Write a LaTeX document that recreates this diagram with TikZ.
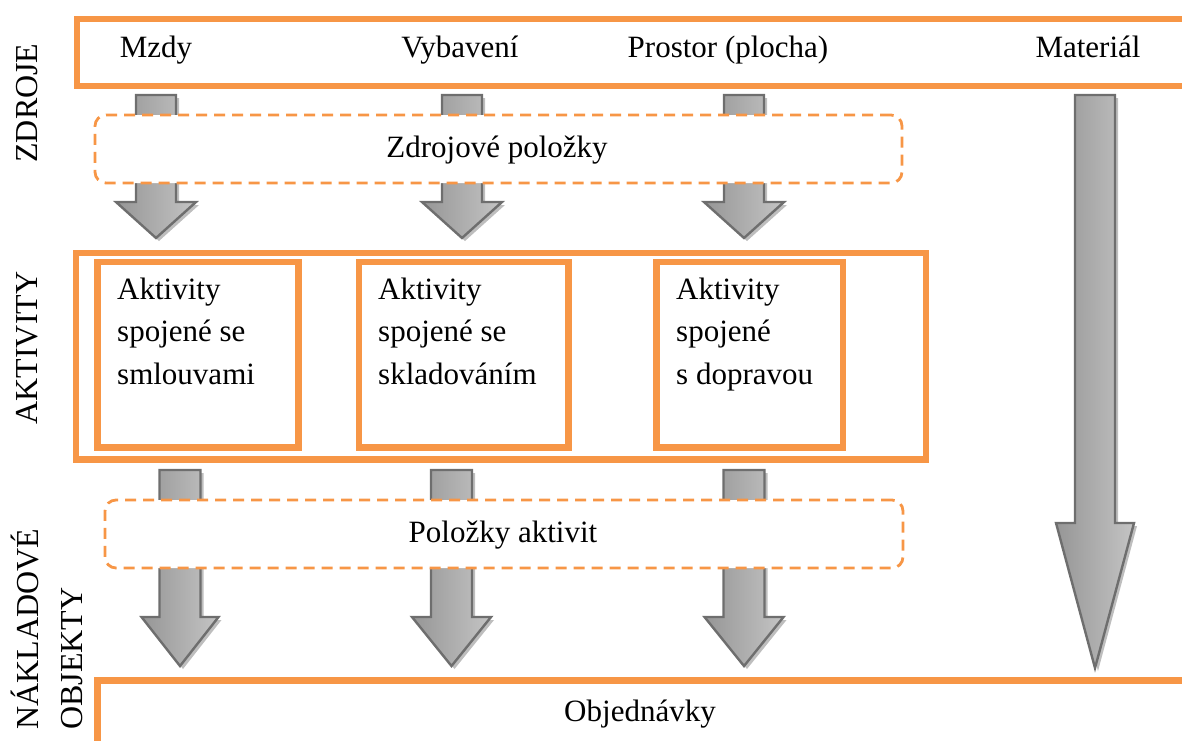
\documentclass[tikz,border=0pt]{standalone}
\usepackage{fontspec}
\setmainfont{Liberation Serif}
\newfontfamily\diagramfont{Liberation Serif}
\definecolor{accent}{HTML}{F79646}
\definecolor{arrowline}{HTML}{6E6E6E}
\definecolor{arrowdark}{HTML}{969696}
\definecolor{arrowlight}{HTML}{D4D4D4}
\definecolor{arrowmid}{HTML}{C4C4C4}
\definecolor{arrowshadow}{HTML}{BEBEBE}

% block arrow: name, centre x, top y, head start y, tip y, shaft half width, head half width
\newcommand\blockarrow[7]{%
  \coordinate (#1-top) at (#2,#3);
  \coordinate (#1-tip) at (#2,#5);
  \fill[arrowshadow, shift={(3,3)}]
    (#2-#6,#3) -- (#2+#6,#3) -- (#2+#6,#4) -- (#2+#7,#4) -- (#2,#5)
    -- (#2-#7,#4) -- (#2-#6,#4) -- cycle;
  \draw[flowarrow]
    (#2-#6,#3) -- (#2+#6,#3) -- (#2+#6,#4) -- (#2+#7,#4) -- (#2,#5)
    -- (#2-#7,#4) -- (#2-#6,#4) -- cycle;
}

\tikzset{
  flowarrow/.style={draw=arrowline, line width=2.4pt, line join=miter,
    left color=arrowdark, middle color=arrowlight, right color=arrowmid},
  obox/.style={draw=accent, line width=6.5pt, fill=white, inner sep=0pt},
  dbox/.style={draw=accent, line width=2.8pt, dash pattern=on 11pt off 7pt,
    rounded corners=11pt, fill=white, inner sep=0pt},
  lbl/.style={font=\diagramfont\fontsize{31}{42}\selectfont, inner sep=0pt},
  boxtxt/.style={font=\diagramfont\fontsize{31}{42.5}\selectfont, inner sep=0pt, align=left},
  vlbl/.style={font=\diagramfont\fontsize{32}{38}\selectfont, inner sep=0pt, rotate=90},
}

\begin{document}
\begin{tikzpicture}[x=1pt, y=-1pt]
  \useasboundingbox (0,0) rectangle (1182,740);
  \clip (0,0) rectangle (1182,740);

  % flow arrows
  \blockarrow{a1}{156}{95}{202}{238}{20}{40}
  \blockarrow{a2}{462}{95}{202}{238}{20}{40}
  \blockarrow{a3}{744}{95}{202}{238}{20}{40}
  \blockarrow{b1}{180}{470}{617}{666}{20.5}{38.5}
  \blockarrow{b2}{451.5}{470}{617}{666}{20.5}{39.5}
  \blockarrow{b3}{744}{470}{617}{666}{20.5}{39.5}
  \blockarrow{m}{1095}{95}{523}{668}{20}{39}

  % resource row
  \node[obox, anchor=north west, minimum width=1140pt, minimum height=67pt]
    (zdroje) at (73.5,15.5) {};
  \node[lbl, anchor=base] (mzdy) at (156,57) {Mzdy};
  \node[lbl, anchor=base] (vyb) at (460,57) {Vybavení};
  \node[lbl, anchor=base] (prostor) at (728,57) {Prostor (plocha)};
  \node[lbl, anchor=base] (mat) at (1088,57) {Materiál};

  % resource items
  \node[dbox, minimum width=807pt, minimum height=68pt] (zpol) at (498.5,149) {};
  \node[lbl, anchor=base] (zpoltxt) at (497,157) {Zdrojové položky};

  % activities
  \node[obox, anchor=north west, minimum width=850pt, minimum height=206.5pt]
    (akt) at (72.5,249.5) {};
  \node[obox, anchor=north west, minimum width=201pt, minimum height=185.5pt]
    (akt1) at (94,258.5) {};
  \node[obox, anchor=north west, minimum width=209.5pt, minimum height=185.5pt]
    (akt2) at (355.5,258.5) {};
  \node[obox, anchor=north west, minimum width=186.5pt, minimum height=185.5pt]
    (akt3) at (653,258.5) {};
  % the base anchor of a multi-line node sits on its last line
  \node[boxtxt, anchor=base west] (t1) at (117,384) {Aktivity\\spojené se\\smlouvami};
  \node[boxtxt, anchor=base west] (t2) at (378,384) {Aktivity\\spojené se\\skladováním};
  \node[boxtxt, anchor=base west] (t3) at (676,384) {Aktivity\\spojené\\s dopravou};

  % activity items
  \node[dbox, minimum width=798pt, minimum height=68pt] (apol) at (504,534) {};
  \node[lbl, anchor=base] (apoltxt) at (503,542) {Položky aktivit};

  % cost objects
  \node[obox, anchor=north west, minimum width=1120pt, minimum height=64.5pt]
    (obj) at (94,677) {};
  \node[lbl, anchor=base] (objtxt) at (640,721) {Objednávky};

  % row labels
  \node[vlbl, anchor=base] (lz) at (37,103) {ZDROJE};
  \node[vlbl, anchor=base] (la) at (37,348) {AKTIVITY};
  \node[vlbl, anchor=base west] (ln1) at (38,730) {NÁKLADOVÉ};
  \node[vlbl, anchor=base west] (ln2) at (82,730) {OBJEKTY};
\end{tikzpicture}
\end{document}
